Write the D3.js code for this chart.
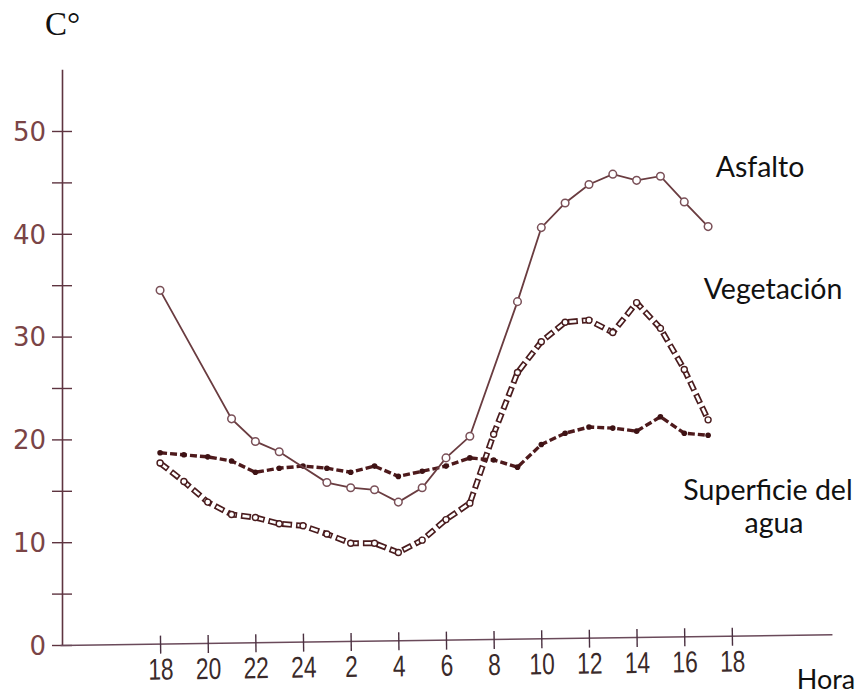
<!DOCTYPE html>
<html>
<head>
<meta charset="utf-8">
<script src="https://cdn.jsdelivr.net/npm/d3@7"></script>
<style>
  html, body { margin: 0; padding: 0; background: #ffffff; }
  svg { display: block; }
</style>
</head>
<body>
<svg id="chart" width="862" height="696"></svg>
<script>
// ---- data (hours elapsed since 18:00, temperatures in °C) ----
const asfaltoHours = [0, 3, 4, 5, 7, 8, 9, 10, 11, 12, 13, 15, 16, 17, 18, 19, 20, 21, 22, 23];
const asfaltoTemps = [34.5, 22.0, 19.8, 18.8, 15.8, 15.3, 15.1, 13.9, 15.3, 18.2, 20.3, 33.4, 40.6, 43.0, 44.8, 45.8, 45.2, 45.6, 43.1, 40.7];

const vegetacionHours = [0, 1, 2, 3, 4, 5, 6, 7, 8, 9, 10, 11, 12, 13, 14, 15, 16, 17, 18, 19, 20, 21, 22, 23];
const vegetacionTemps = [17.7, 15.9, 13.9, 12.7, 12.4, 11.8, 11.6, 10.8, 9.9, 9.9, 9.0, 10.2, 12.2, 13.8, 20.5, 26.5, 29.5, 31.4, 31.6, 30.4, 33.3, 30.8, 26.8, 21.9];

const aguaHours = [0, 1, 2, 3, 4, 5, 6, 7, 8, 9, 10, 11, 12, 13, 14, 15, 16, 17, 18, 19, 20, 21, 22, 23];
const aguaTemps = [18.7, 18.5, 18.3, 17.9, 16.8, 17.2, 17.4, 17.2, 16.8, 17.4, 16.4, 16.9, 17.4, 18.2, 18.0, 17.3, 19.5, 20.6, 21.2, 21.1, 20.8, 22.2, 20.6, 20.4];

const xTickHours = [0, 2, 4, 6, 8, 10, 12, 14, 16, 18, 20, 22, 24];
const xTickLabels = ["18", "20", "22", "24", "2", "4", "6", "8", "10", "12", "14", "16", "18"];
const yTickValues = [0, 5, 10, 15, 20, 25, 30, 35, 40, 45, 50];
const yLabelValues = [0, 10, 20, 30, 40, 50];

const seriesLabels = ["Asfalto", "Vegetación", "Superficie del", "agua"];

// ---- scales ----
const svg = d3.select("#chart");
const x = d3.scaleLinear().domain([-4.2, 28.2]).range([60, 832]);
const y = d3.scaleLinear().domain([0, 56]).range([645, 69.3]);

const axisColor = "#5e3440";

// ---- y axis ----
const yAxis = d3.axisLeft(y)
  .tickValues(yTickValues)
  .tickSizeOuter(0)
  .tickFormat(d => yLabelValues.includes(d) ? String(d) : "");
const gy = svg.append("g").attr("transform", "translate(62,0)").call(yAxis);
gy.select(".domain").attr("stroke", axisColor).attr("stroke-width", 1.6);
gy.selectAll(".tick line").attr("x1", -10).attr("x2", 10).attr("stroke", axisColor).attr("stroke-width", 1.4);
gy.selectAll(".tick text")
  .attr("x", -16)
  .attr("dy", "0.36em")
  .attr("fill", "#7a4446")
  .style("font-family", "'DejaVu Sans', sans-serif")
  .style("font-size", "26px");

// ---- x axis (slightly tilted like the scanned original) ----
const xAxis = d3.axisBottom(x)
  .tickValues(xTickHours)
  .tickSizeOuter(0)
  .tickFormat((d, i) => xTickLabels[i]);
const gx = svg.append("g").attr("transform", "translate(0,645) rotate(-0.8,62,0)").call(xAxis);
gx.select(".domain").attr("stroke", "#6a4a5a").attr("stroke-width", 1.4);
gx.selectAll(".tick line").attr("y1", -8).attr("y2", 10).attr("stroke", "#4a3040").attr("stroke-width", 1.4);
gx.selectAll(".tick text")
  .attr("y", 0)
  .attr("dy", 0)
  .attr("transform", "translate(0,36) scale(0.76,1)")
  .attr("fill", "#3a2a2a")
  .style("font-family", "'Liberation Sans', Arial, sans-serif")
  .style("font-size", "30px");

// ---- line generator ----
const line = d3.line().x(d => x(d[0])).y(d => y(d[1]));

const agua = aguaHours.map((h, i) => [h, aguaTemps[i]]);
const veg = vegetacionHours.map((h, i) => [h, vegetacionTemps[i]]);
const asf = asfaltoHours.map((h, i) => [h, asfaltoTemps[i]]);

// Vegetación: chain of hollow rectangles with small circles
svg.append("path").datum(veg).attr("d", line)
  .attr("fill", "none").attr("stroke", "#4a1c1e").attr("stroke-width", 6)
  .attr("stroke-dasharray", "10,4").attr("stroke-linejoin", "round");
svg.append("path").datum(veg).attr("d", line)
  .attr("fill", "none").attr("stroke", "#ffffff").attr("stroke-width", 2.6)
  .attr("stroke-dasharray", "7,7").attr("stroke-dashoffset", -1.5);
svg.append("g").selectAll("circle").data(veg).join("circle")
  .attr("cx", d => x(d[0])).attr("cy", d => y(d[1])).attr("r", 3)
  .attr("fill", "#ffffff").attr("stroke", "#4a1c1e").attr("stroke-width", 1.4);

// Superficie del agua: thick dashed line with filled dots
svg.append("path").datum(agua).attr("d", line)
  .attr("fill", "none").attr("stroke", "#4e1a1c").attr("stroke-width", 3.4)
  .attr("stroke-dasharray", "7,3").attr("stroke-linejoin", "round");
svg.append("g").selectAll("circle").data(agua).join("circle")
  .attr("cx", d => x(d[0])).attr("cy", d => y(d[1])).attr("r", 2.8)
  .attr("fill", "#3e1214");

// Asfalto: solid thin line with hollow circles
svg.append("path").datum(asf).attr("d", line)
  .attr("fill", "none").attr("stroke", "#6a3c40").attr("stroke-width", 1.8);
svg.append("g").selectAll("circle").data(asf).join("circle")
  .attr("cx", d => x(d[0])).attr("cy", d => y(d[1])).attr("r", 3.8)
  .attr("fill", "#ffffff").attr("stroke", "#7a5058").attr("stroke-width", 1.5);

// ---- text labels ----
svg.append("text").attr("x", 45).attr("y", 35).text("C°")
  .attr("fill", "#111").style("font-family", "'Liberation Serif', 'Times New Roman', serif").style("font-size", "33px");

const labelFont = "Lato, 'Open Sans', sans-serif";
const labelSize = "28.5px";
svg.append("text").attr("x", 760).attr("y", 177).attr("text-anchor", "middle").text(seriesLabels[0])
  .attr("fill", "#111").style("font-family", labelFont).style("font-size", labelSize);
svg.append("text").attr("x", 773).attr("y", 299).attr("text-anchor", "middle").text(seriesLabels[1])
  .attr("fill", "#111").style("font-family", labelFont).style("font-size", labelSize);
svg.append("text").attr("x", 768).attr("y", 500).attr("text-anchor", "middle").text(seriesLabels[2])
  .attr("fill", "#111").style("font-family", labelFont).style("font-size", labelSize);
svg.append("text").attr("x", 774).attr("y", 533).attr("text-anchor", "middle").text(seriesLabels[3])
  .attr("fill", "#111").style("font-family", labelFont).style("font-size", labelSize);
svg.append("text").attr("x", 826).attr("y", 689).attr("text-anchor", "middle").text("Hora")
  .attr("fill", "#111").style("font-family", labelFont).style("font-size", "27px");
</script>
</body>
</html>
